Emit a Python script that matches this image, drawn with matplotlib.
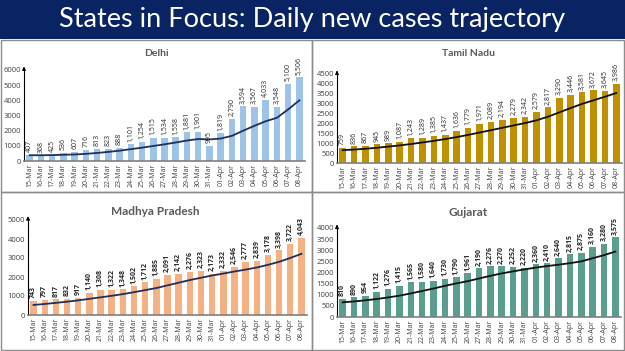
import matplotlib
matplotlib.use("Agg")
import matplotlib.pyplot as plt
from matplotlib.patches import Rectangle

dates = ["15-Mar", "16-Mar", "17-Mar", "18-Mar", "19-Mar", "20-Mar", "21-Mar", "22-Mar",
         "23-Mar", "24-Mar", "25-Mar", "26-Mar", "27-Mar", "28-Mar", "29-Mar", "30-Mar",
         "31-Mar", "01-Apr", "02-Apr", "03-Apr", "04-Apr", "05-Apr", "06-Apr", "07-Apr", "08-Apr"]

delhi = [407, 368, 425, 536, 607, 716, 813, 823, 888, 1101, 1254, 1515, 1534, 1558, 1881,
         1901, 995, 1819, 2790, 3594, 3567, 4033, 3548, 5100, 5506]
delhi_trend = [380, 380, 390, 410, 430, 470, 530, 600, 680, 780, 880, 990, 1100, 1220, 1350,
               1450, 1420, 1480, 1660, 2000, 2320, 2620, 2850, 3400, 4000]

tamil = [759, 836, 867, 945, 989, 1087, 1243, 1289, 1385, 1437, 1636, 1779, 1971, 2089, 2194,
         2279, 2342, 2579, 2817, 3290, 3446, 3581, 3672, 3645, 3986]
tamil_trend = [650, 680, 720, 770, 830, 890, 960, 1040, 1120, 1210, 1310, 1420, 1540, 1660,
               1780, 1900, 2020, 2160, 2340, 2560, 2780, 2990, 3170, 3350, 3540]

mp = [743, 797, 817, 832, 917, 1140, 1308, 1322, 1348, 1502, 1712, 1885, 2091, 2142, 2276,
      2323, 2173, 2332, 2546, 2777, 2839, 3178, 3398, 3722, 4043]
mp_trend = [530, 580, 640, 700, 770, 850, 930, 1010, 1100, 1200, 1310, 1420, 1560, 1700, 1840,
            1960, 2080, 2180, 2290, 2390, 2500, 2640, 2800, 3000, 3220]

guj = [810, 890, 954, 1122, 1276, 1415, 1565, 1580, 1640, 1730, 1790, 1961, 2190, 2276, 2270,
       2252, 2220, 2360, 2410, 2640, 2815, 2875, 3160, 3280, 3575]
guj_trend = [660, 700, 750, 810, 880, 960, 1060, 1170, 1280, 1400, 1510, 1610, 1730, 1850,
             1960, 2050, 2140, 2220, 2290, 2350, 2420, 2500, 2640, 2780, 2940]

W, H = 625, 351
fig = plt.figure(figsize=(W / 100, H / 100), dpi=100)
plt.rcParams['font.family'] = ['Open Sans', 'DejaVu Sans']


def fx(px):
    return px / W


def fy(py):
    return 1 - py / H


# title bar
fig.patches.append(Rectangle((0, fy(39)), 1, 39 / H, transform=fig.transFigure,
                             facecolor='#0a2463', edgecolor='none', zorder=0))
fig.text(0.5, fy(20), "States in Focus: Daily new cases trajectory", color='white',
         fontsize=19.5, ha='center', va='center', family=['Lato', 'DejaVu Sans'])

# panel borders
for (x0, y0, x1, y1) in [(1, 40, 312, 192), (312, 40, 624, 192), (1, 192, 312, 350), (312, 192, 624, 350)]:
    fig.patches.append(Rectangle((fx(x0), fy(y1)), fx(x1 - x0), (y1 - y0) / H,
                                 transform=fig.transFigure, facecolor='none',
                                 edgecolor='#8c8c8c', linewidth=1.0, zorder=0))


def panel(title, title_xy, title_size, vals, trend, color, lcolor, left, right, base, top,
          ymax, ystep, bold):
    ax = fig.add_axes([fx(left), fy(base), fx(right - left), (base - top) / H])
    x = list(range(len(vals)))
    ax.bar(x, vals, width=0.58, color=color, zorder=2)
    ax.plot(x, trend, color=lcolor, linewidth=1.3, zorder=3)
    ax.set_xlim(-0.5, len(vals) - 0.5)
    ax.set_ylim(0, ymax)
    ax.set_yticks(range(0, ymax + 1, ystep))
    ax.set_xticks(x)
    ax.set_xticklabels(dates, rotation=90, fontsize=5, color='#404040')
    ax.tick_params(axis='y', labelsize=5.5, length=0, pad=2, labelcolor='#404040')
    ax.tick_params(axis='x', length=0, pad=2)
    for s in ['top', 'right']:
        ax.spines[s].set_visible(False)
    ax.spines['left'].set_color('black')
    ax.spines['bottom'].set_color('#7f7f7f')
    ax.spines['bottom'].set_linewidth(1.2)
    ax.annotate('', xy=(-0.5, ymax * 1.07), xytext=(-0.5, ymax * 0.98),
                arrowprops=dict(arrowstyle='-|>', color='black', lw=0.8,
                                mutation_scale=5), annotation_clip=False)
    for xi, v in zip(x, vals):
        ax.text(xi, v + ymax * 0.03, f"{v:,}", rotation=90, ha='center', va='bottom',
                fontsize=5, color='#262626', fontweight='bold' if bold else 'normal',
                clip_on=False)
    fig.text(fx(title_xy[0]), fy(title_xy[1]), title, ha='center', va='center',
             fontsize=title_size, fontweight='bold', color='#595959',
             family=['Lato', 'DejaVu Sans'])
    return ax


panel("Delhi", (156, 53), 7.5, delhi, delhi_trend, '#9dc3e6', '#1f2f5e',
      24, 305, 161, 70, 6000, 1000, False)
panel("Tamil Nadu", (468, 53), 7.5, tamil, tamil_trend, '#bf9000', '#111111',
      337, 622, 163, 74, 4500, 500, False)
panel("Madhya Pradesh", (155, 211), 8.5, mp, mp_trend, '#f4b183', '#1f2f5e',
      28, 307, 315, 220, 5000, 1000, True)
panel("Gujarat", (468, 212), 8.5, guj, guj_trend, '#5a9e8f', '#111111',
      337, 621, 317, 228, 4000, 500, True)

fig.savefig("out.png", dpi=100)
